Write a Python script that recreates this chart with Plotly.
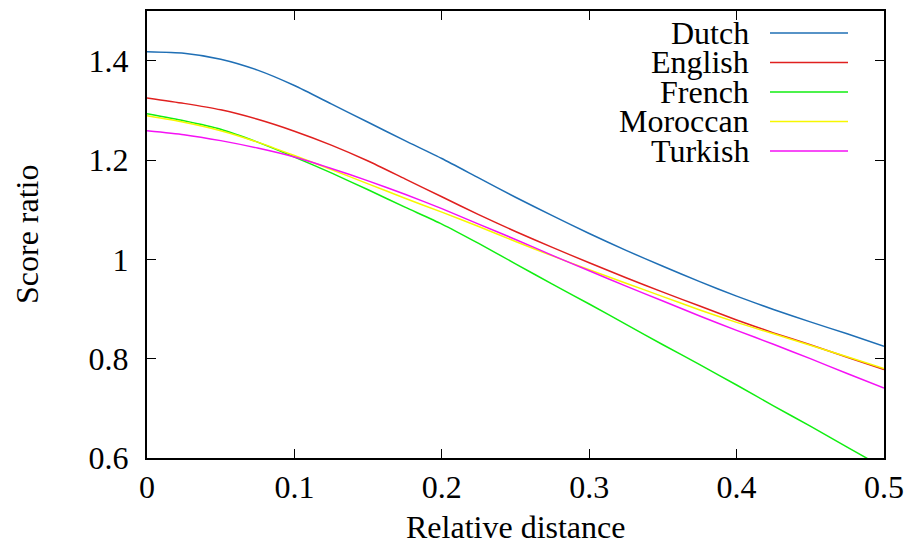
import plotly.graph_objects as go

# ---- data ----
x_rel = [0.0, 0.025, 0.05, 0.075, 0.10, 0.125, 0.15, 0.175, 0.20, 0.225, 0.25,
         0.275, 0.30, 0.325, 0.35, 0.375, 0.40, 0.425, 0.45, 0.475, 0.50]
dutch    = [1.418, 1.415, 1.403, 1.381, 1.350, 1.313, 1.276, 1.239, 1.203, 1.164, 1.125,
            1.088, 1.052, 1.018, 0.986, 0.955, 0.926, 0.899, 0.874, 0.850, 0.825]
english  = [1.325, 1.314, 1.301, 1.282, 1.258, 1.230, 1.198, 1.162, 1.126, 1.090, 1.056,
            1.024, 0.993, 0.963, 0.934, 0.906, 0.878, 0.852, 0.828, 0.803, 0.778]
french   = [1.293, 1.279, 1.262, 1.236, 1.206, 1.174, 1.140, 1.105, 1.071, 1.032, 0.991,
            0.950, 0.910, 0.869, 0.828, 0.788, 0.747, 0.705, 0.664, 0.622, 0.580]
moroccan = [1.289, 1.276, 1.259, 1.236, 1.209, 1.181, 1.152, 1.123, 1.095, 1.066, 1.036,
            1.007, 0.979, 0.952, 0.925, 0.898, 0.873, 0.850, 0.827, 0.804, 0.780]
turkish  = [1.259, 1.251, 1.239, 1.224, 1.206, 1.183, 1.158, 1.131, 1.102, 1.071, 1.040,
            1.008, 0.977, 0.946, 0.916, 0.886, 0.857, 0.829, 0.800, 0.770, 0.741]

series_names = ["Dutch", "English", "French", "Moroccan", "Turkish"]
series_vals = [dutch, english, french, moroccan, turkish]
colors = ["#1f6fb5", "#e0201f", "#11ee11", "#f7f700", "#f511f5"]

x_ticks = [0, 0.1, 0.2, 0.3, 0.4, 0.5]
x_ticktext = ["0", "0.1", "0.2", "0.3", "0.4", "0.5"]
y_ticks = [0.6, 0.8, 1.0, 1.2, 1.4]
y_ticktext = ["0.6", "0.8", "1", "1.2", "1.4"]

FONT = "Liberation Serif, Liberation Sans, serif"
FS = 32

fig = go.Figure()
for name, vals, col in zip(series_names, series_vals, colors):
    fig.add_trace(go.Scatter(x=x_rel, y=vals, mode="lines", name=name,
                             line=dict(color=col, width=1.5, shape="spline", smoothing=0.6),
                             showlegend=False))

# page offset compensation (body margin of 8px)
OFF = 8
W, H = 912 - OFF, 544 - OFF
L, R, T, B = 147 - OFF, 884 - OFF, 11 - OFF, 458 - OFF
pw, ph = R - L, B - T

# gnuplot-style key: right-aligned text with the sample line on its right
text_px = 751 - OFF
line_x0, line_x1 = 770 - OFF, 848 - OFF
row0, row_gap = 33 - OFF, 29.5
annotations = []
shapes = []
for i, (name, col) in enumerate(zip(series_names, colors)):
    py = row0 + i * row_gap
    yp = (B - py) / ph
    annotations.append(dict(x=(text_px - L) / pw, y=yp, xref="paper", yref="paper",
                            text=name, showarrow=False, xanchor="right", yanchor="middle",
                            font=dict(family=FONT, size=FS, color="black")))
    shapes.append(dict(type="line", xref="paper", yref="paper",
                       x0=(line_x0 - L) / pw, x1=(line_x1 - L) / pw, y0=yp, y1=yp,
                       line=dict(color=col, width=1.5)))

# axis titles
annotations.append(dict(x=(515 - OFF - L) / pw, y=(B - (527 - OFF)) / ph, xref="paper", yref="paper",
                        text="Relative distance", showarrow=False, xanchor="center",
                        yanchor="middle", font=dict(family=FONT, size=FS, color="black")))
annotations.append(dict(x=(27 - OFF - L) / pw, y=(B - (234 - OFF)) / ph, xref="paper", yref="paper",
                        text="Score ratio", showarrow=False, xanchor="center",
                        yanchor="middle", textangle=-90,
                        font=dict(family=FONT, size=FS, color="black")))

axis_common = dict(showgrid=False, zeroline=False, showline=True, linecolor="black",
                   linewidth=2, mirror="ticks", ticks="inside", ticklen=9, tickwidth=1.2,
                   tickcolor="black", automargin=False,
                   tickfont=dict(family=FONT, size=FS, color="black"))

fig.update_layout(
    width=W, height=H,
    margin=dict(l=L, r=W - R, t=T, b=H - B),
    paper_bgcolor="white", plot_bgcolor="white",
    font=dict(family=FONT),
    xaxis=dict(range=[0, 0.5], tickvals=x_ticks, ticktext=x_ticktext,
               ticklabelstandoff=0, **axis_common),
    yaxis=dict(range=[0.6, 1.5], tickvals=y_ticks, ticktext=y_ticktext,
               ticklabelstandoff=10, **axis_common),
    annotations=annotations, shapes=shapes,
)

fig.write_html("out.html")
